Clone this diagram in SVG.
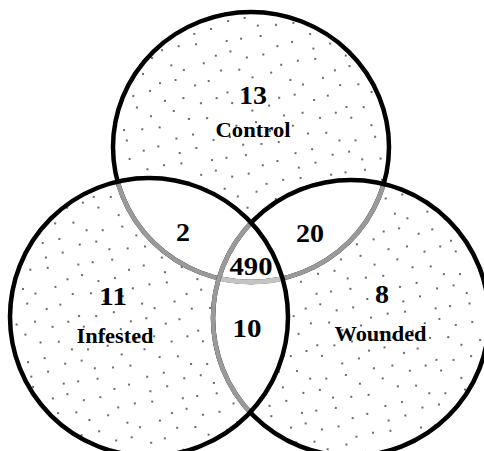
<svg xmlns="http://www.w3.org/2000/svg" width="484" height="451" viewBox="0 0 484 451">
  <style>
    .lbl { font-family: "Liberation Serif", "Times New Roman", serif; font-weight: bold; fill: #000; text-anchor: middle; }
    .num { font-size: 25px; }
    .name { font-size: 20px; }
    .edge { fill: none; stroke: #000; stroke-width: 4.5; }
    .mid { fill: none; stroke: #9a9a9a; stroke-width: 4.5; }
    .light { fill: none; stroke: #c4c4c4; stroke-width: 4.5; }
    .d { fill: #2a2a2a; }
  </style>
  <defs>
    <pattern id="dots" patternUnits="userSpaceOnUse" width="120" height="120" patternTransform="rotate(7)">
      <g class="d">
        <circle cx="4" cy="9" r="0.95"/><circle cx="23" cy="4" r="0.95"/><circle cx="41" cy="12" r="0.95"/><circle cx="55" cy="6" r="0.95"/><circle cx="77" cy="10" r="0.95"/><circle cx="93" cy="3" r="0.95"/><circle cx="110" cy="13" r="0.95"/>
        <circle cx="12" cy="27" r="0.95"/><circle cx="28" cy="22" r="0.95"/><circle cx="47" cy="30" r="0.95"/><circle cx="63" cy="24" r="0.95"/><circle cx="80" cy="20" r="0.95"/><circle cx="101" cy="29" r="0.95"/><circle cx="115" cy="23" r="0.95"/>
        <circle cx="6" cy="40" r="0.95"/><circle cx="20" cy="46" r="0.95"/><circle cx="38" cy="39" r="0.95"/><circle cx="58" cy="44" r="0.95"/><circle cx="71" cy="47" r="0.95"/><circle cx="90" cy="38" r="0.95"/><circle cx="108" cy="43" r="0.95"/>
        <circle cx="14" cy="62" r="0.95"/><circle cx="31" cy="56" r="0.95"/><circle cx="49" cy="63" r="0.95"/><circle cx="64" cy="58" r="0.95"/><circle cx="84" cy="61" r="0.95"/><circle cx="97" cy="55" r="0.95"/><circle cx="117" cy="64" r="0.95"/>
        <circle cx="3" cy="74" r="0.95"/><circle cx="24" cy="79" r="0.95"/><circle cx="40" cy="72" r="0.95"/><circle cx="56" cy="80" r="0.95"/><circle cx="74" cy="75" r="0.95"/><circle cx="92" cy="78" r="0.95"/><circle cx="107" cy="71" r="0.95"/>
        <circle cx="10" cy="96" r="0.95"/><circle cx="29" cy="90" r="0.95"/><circle cx="44" cy="97" r="0.95"/><circle cx="66" cy="89" r="0.95"/><circle cx="82" cy="95" r="0.95"/><circle cx="100" cy="92" r="0.95"/><circle cx="114" cy="98" r="0.95"/>
        <circle cx="5" cy="108" r="0.95"/><circle cx="19" cy="114" r="0.95"/><circle cx="37" cy="111" r="0.95"/><circle cx="54" cy="107" r="0.95"/><circle cx="72" cy="116" r="0.95"/><circle cx="88" cy="110" r="0.95"/><circle cx="109" cy="113" r="0.95"/>
      </g>
    </pattern>
    <clipPath id="cC"><ellipse cx="251" cy="147" rx="138" ry="135"/></clipPath>
    <clipPath id="cI"><circle cx="149" cy="317" r="139"/></clipPath>
    <clipPath id="cW"><circle cx="351" cy="318" r="138"/></clipPath>
  </defs>

  <rect x="0" y="0" width="484" height="451" fill="#fff"/>

  <g id="fills">
    <ellipse cx="251" cy="147" rx="138" ry="135" fill="url(#dots)"/>
    <circle cx="149" cy="317" r="139" fill="url(#dots)"/>
    <circle cx="351" cy="318" r="138" fill="url(#dots)"/>
    <circle cx="149" cy="317" r="139" fill="#fff" clip-path="url(#cC)"/>
    <circle cx="351" cy="318" r="138" fill="#fff" clip-path="url(#cC)"/>
    <circle cx="351" cy="318" r="138" fill="#fff" clip-path="url(#cI)"/>
  </g>

  <g id="control">
    <ellipse class="edge" cx="251" cy="147" rx="138" ry="135"/>
    <ellipse class="mid" cx="251" cy="147" rx="138" ry="135" clip-path="url(#cI)"/>
    <ellipse class="mid" cx="251" cy="147" rx="138" ry="135" clip-path="url(#cW)"/>
    <g clip-path="url(#cI)"><ellipse class="light" cx="251" cy="147" rx="138" ry="135" clip-path="url(#cW)"/></g>
    <text class="lbl num" x="253" y="104" textLength="28" lengthAdjust="spacingAndGlyphs">13</text>
    <text class="lbl name" x="253" y="137" textLength="75" lengthAdjust="spacingAndGlyphs">Control</text>
  </g>

  <g id="wounded">
    <circle class="edge" cx="351" cy="318" r="138"/>
    <circle class="mid" cx="351" cy="318" r="138" clip-path="url(#cI)"/>
    <text class="lbl num" x="382" y="303" textLength="14" lengthAdjust="spacingAndGlyphs">8</text>
    <text class="lbl name" x="380.5" y="341" textLength="92" lengthAdjust="spacingAndGlyphs">Wounded</text>
  </g>

  <g id="infested">
    <circle class="edge" cx="149" cy="317" r="139"/>
    <text class="lbl num" x="113" y="305" textLength="28" lengthAdjust="spacingAndGlyphs">11</text>
    <text class="lbl name" x="115" y="343" textLength="77" lengthAdjust="spacingAndGlyphs">Infested</text>
  </g>

  <g id="control-infested">
    <text class="lbl num" x="183" y="241" textLength="14" lengthAdjust="spacingAndGlyphs">2</text>
  </g>
  <g id="control-wounded">
    <text class="lbl num" x="310" y="242" textLength="28" lengthAdjust="spacingAndGlyphs">20</text>
  </g>
  <g id="all-three">
    <text class="lbl num" x="251" y="275" textLength="43" lengthAdjust="spacingAndGlyphs">490</text>
  </g>
  <g id="infested-wounded">
    <text class="lbl num" x="247" y="337" textLength="29" lengthAdjust="spacingAndGlyphs">10</text>
  </g>
</svg>
